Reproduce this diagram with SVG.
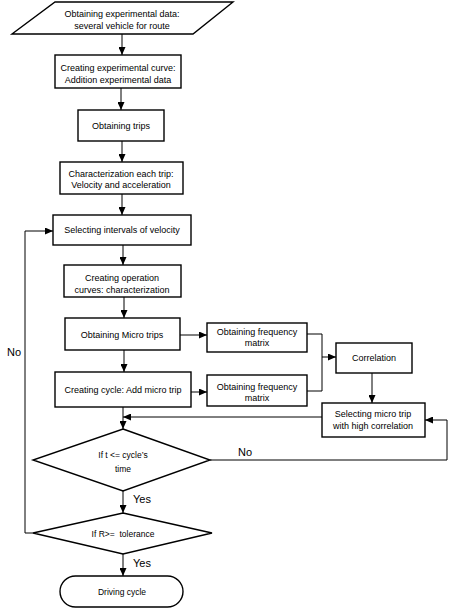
<svg xmlns="http://www.w3.org/2000/svg" width="451" height="609" viewBox="0 0 451 609">
<defs>
<style>
.n{fill:#fff;stroke:#000;stroke-width:1.4}
.t{font-family:"Liberation Sans",Arial,sans-serif;font-size:9px;fill:#000;text-anchor:middle}
.s{font-family:"Liberation Sans",Arial,sans-serif;font-size:8.5px;fill:#000;text-anchor:middle}
.l{font-family:"Liberation Sans",Arial,sans-serif;font-size:11px;fill:#000}
.c{fill:none;stroke:#000;stroke-width:1}
</style>
<marker id="a" markerUnits="userSpaceOnUse" markerWidth="8" markerHeight="7" refX="8" refY="3.5" orient="auto">
<path d="M0,0 L8,3.5 L0,7 z" fill="#000"/>
</marker>
</defs>
<rect width="451" height="609" fill="#fff"/>
<g id="connectors">
<path class="c" d="M122,34 V55" marker-end="url(#a)"/>
<path class="c" d="M121,88 V110" marker-end="url(#a)"/>
<path class="c" d="M122,141 V162" marker-end="url(#a)"/>
<path class="c" d="M122,194 V215" marker-end="url(#a)"/>
<path class="c" d="M123,245 V265" marker-end="url(#a)"/>
<path class="c" d="M124,297 V318" marker-end="url(#a)"/>
<path class="c" d="M124,350 V372" marker-end="url(#a)"/>
<path class="c" d="M180,335 H207" marker-end="url(#a)"/>
<path class="c" d="M191,392 H207" marker-end="url(#a)"/>
<path class="c" d="M307,334 H322 V391 H307"/>
<path class="c" d="M322,357 H336" marker-end="url(#a)"/>
<path class="c" d="M372,373 V403" marker-end="url(#a)"/>
<path class="c" d="M322,417 H123" marker-end="url(#a)"/>
<path class="c" d="M123,407 V429" marker-end="url(#a)"/>
<path class="c" d="M210,460 H447 V420 H425" marker-end="url(#a)"/>
<path class="c" d="M123,491 V513" marker-end="url(#a)"/>
<path class="c" d="M123,554 V576" marker-end="url(#a)"/>
<path class="c" d="M33,533 H25 V231 H53" marker-end="url(#a)"/>
<text class="l" x="238" y="456">No</text>
<text class="l" x="133" y="503">Yes</text>
<text class="l" x="133" y="567">Yes</text>
<text class="l" x="7" y="356">No</text>
</g>
<g id="n1"><path class="n" d="M55,2 H233 L193,34 H12 Z"/><text class="t" x="122" y="17">Obtaining experimental data:</text><text class="t" x="122" y="29">several vehicle for route</text></g>
<g id="n2"><rect class="n" x="55" y="55" width="126" height="33"/><text class="t" x="118" y="71">Creating experimental curve:</text><text class="t" x="118" y="83">Addition experimental data</text></g>
<g id="n3"><rect class="n" x="78" y="110" width="86" height="31"/><text class="t" x="121" y="129">Obtaining trips</text></g>
<g id="n4"><rect class="n" x="60" y="162" width="123" height="32"/><text class="t" x="121" y="177">Characterization each trip:</text><text class="t" x="121" y="188">Velocity and acceleration</text></g>
<g id="n5"><rect class="n" x="53" y="215" width="138" height="30"/><text class="t" x="122" y="233">Selecting intervals of velocity</text></g>
<g id="n6"><rect class="n" x="64" y="265" width="117" height="32"/><text class="t" x="122" y="281">Creating operation</text><text class="t" x="122" y="293">curves: characterization</text></g>
<g id="n7"><rect class="n" x="65" y="318" width="115" height="32"/><text class="t" x="122" y="338">Obtaining Micro trips</text></g>
<g id="n8"><rect class="n" x="55" y="372" width="136" height="35"/><text class="t" x="123" y="393">Creating cycle: Add micro trip</text></g>
<g id="n9"><rect class="n" x="207" y="323" width="100" height="29"/><text class="t" x="257" y="335">Obtaining frequency</text><text class="t" x="257" y="346">matrix</text></g>
<g id="n10"><rect class="n" x="207" y="375" width="100" height="31"/><text class="t" x="257" y="390">Obtaining frequency</text><text class="t" x="257" y="401">matrix</text></g>
<g id="n11"><rect class="n" x="336" y="343" width="76" height="30"/><text class="t" x="374" y="361">Correlation</text></g>
<g id="n12"><rect class="n" x="322" y="403" width="103" height="34"/><text class="t" x="373" y="417">Selecting micro trip</text><text class="t" x="373" y="429">with high correlation</text></g>
<g id="n13"><path class="n" d="M123,429 L210,460 L123,491 L33,460 Z"/><text class="s" x="123" y="458">If t &lt;= cycle’s</text><text class="s" x="123" y="472">time</text></g>
<g id="n14"><path class="n" d="M123,513 L212,533 L123,554 L33,533 Z"/><text class="s" x="123" y="537" xml:space="preserve">If R&gt;=  tolerance</text></g>
<g id="n15"><rect class="n" x="60" y="576" width="123" height="31" rx="15.5"/><text class="s" x="122" y="595">Driving cycle</text></g>
</svg>
